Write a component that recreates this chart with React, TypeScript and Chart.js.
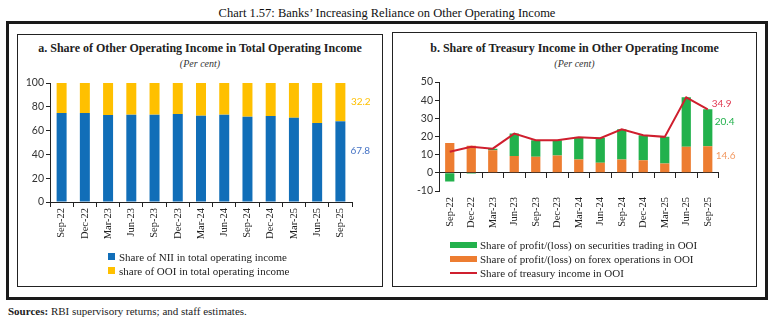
import React, { useEffect, useRef } from "react";
import { Chart, registerables } from "chart.js";
Chart.register(...registerables);

// ---------- data ----------
const categories = ["Sep-22", "Dec-22", "Mar-23", "Jun-23", "Sep-23", "Dec-23", "Mar-24", "Jun-24", "Sep-24", "Dec-24", "Mar-25", "Jun-25", "Sep-25"];
// Panel a
const niiShare = [74.8, 74.8, 73.1, 73.4, 73.4, 73.9, 72.5, 73.4, 71.7, 72.2, 70.8, 66.4, 67.8];
const ooiShare = [25.2, 25.2, 26.9, 26.6, 26.6, 26.1, 27.5, 26.6, 28.3, 27.8, 29.2, 33.6, 32.2];
const leftTicks = [0, 20, 40, 60, 80, 100];
// Panel b
const forexShare = [16.4, 14.9, 12.4, 9.3, 8.9, 9.6, 7.3, 5.5, 7.3, 6.9, 5.1, 14.4, 14.6];
const securitiesShare = [-4.8, -0.5, 0.9, 12.3, 9.1, 8.4, 12.3, 13.8, 16.7, 13.8, 14.7, 27.2, 20.4];
const treasuryShare = [11.6, 14.4, 13.3, 21.6, 18.0, 18.0, 19.6, 19.1, 24.0, 20.7, 19.8, 41.6, 34.9];
const rightTicks = [-10, 0, 10, 20, 30, 40, 50];

// ---------- colours ----------
const BLUE = "#116EB8";
const YELLOW = "#FFC000";
const GREEN = "#22B14C";
const ORANGE = "#ED7D31";
const RED = "#CF1F2E";

const SERIF = "'Liberation Serif', 'Times New Roman', serif";
const SANS = "Lato, 'Liberation Sans', sans-serif";

// plugin: value labels to the right of the last bar
const endLabels = {
  id: "endLabels",
  afterDatasetsDraw(chart: any, _args: any, opts: any) {
    const items = (opts && opts.items) || [];
    const ctx = chart.ctx;
    ctx.save();
    ctx.font = `10px ${SANS}`;
    ctx.textAlign = "left";
    ctx.textBaseline = "middle";
    items.forEach((it: any) => {
      const meta = chart.getDatasetMeta(it.dataset);
      const idx = meta.data.length - 1;
      const el = meta.data[idx];
      const p = el.getProps(["x", "y", "base"], true);
      const y = it.mid ? (p.y + p.base) / 2 : p.y;
      const v = chart.data.datasets[it.dataset].data[idx];
      ctx.fillStyle = it.color;
      ctx.fillText(Number(v).toFixed(1), p.x + it.dx, y + it.dy);
    });
    ctx.restore();
  },
};

const tickFontY = { family: SANS, size: 10.5 };
const tickFontX = { family: SERIF, size: 10.5 };

export default function App() {
  const leftRef = useRef<HTMLCanvasElement>(null);
  const rightRef = useRef<HTMLCanvasElement>(null);

  useEffect(() => {
    document.body.style.margin = "0";
    const c1 = new Chart(leftRef.current as HTMLCanvasElement, {
      type: "bar",
      data: {
        labels: categories,
        datasets: [
          { label: "Share of NII in total operating income", data: niiShare, backgroundColor: BLUE, borderWidth: 0, barPercentage: 0.43, categoryPercentage: 1 },
          { label: "share of OOI in total operating income", data: ooiShare, backgroundColor: YELLOW, borderWidth: 0, barPercentage: 0.43, categoryPercentage: 1 },
        ],
      },
      options: {
        responsive: false,
        animation: false,
        devicePixelRatio: 1,
        layout: { padding: { top: 11, right: 23, left: 0, bottom: 0 } },
        plugins: {
          legend: { display: false },
          tooltip: { enabled: false },
          endLabels: {
            items: [
              { dataset: 1, mid: true, dx: 10.5, dy: 0, color: YELLOW },
              { dataset: 0, mid: true, dx: 10, dy: -11, color: "#4472C4" },
            ],
          },
        } as any,
        scales: {
          x: {
            stacked: true,
            offset: true,
            grid: { display: true, offset: true, drawOnChartArea: false, drawTicks: true, tickLength: 5, color: "#222" },
            border: { display: true, color: "#222" },
            ticks: { autoSkip: false, minRotation: 90, maxRotation: 90, padding: 1, color: "#222", font: tickFontX },
            afterFit: (s: any) => { s.height = 40; },
          },
          y: {
            stacked: true,
            min: leftTicks[0],
            max: leftTicks[leftTicks.length - 1],
            ticks: { stepSize: leftTicks[1] - leftTicks[0], padding: 2, color: "#333", font: tickFontY },
            grid: { drawOnChartArea: false, drawTicks: true, tickLength: 4, color: "#222" },
            border: { display: true, color: "#222" },
            afterFit: (s: any) => { s.width = 30; },
          },
        },
      },
      plugins: [endLabels],
    } as any);

    const c2 = new Chart(rightRef.current as HTMLCanvasElement, {
      type: "bar",
      data: {
        labels: categories,
        datasets: [
          { type: "line", label: "Share of treasury income in OOI", data: treasuryShare, borderColor: RED, backgroundColor: RED, borderWidth: 2, pointRadius: 0, tension: 0, stack: "line", order: 0 },
          { label: "Share of profit/(loss) on forex operations in OOI", data: forexShare, backgroundColor: ORANGE, borderWidth: 0, barPercentage: 0.43, categoryPercentage: 1, stack: "t", order: 1 },
          { label: "Share of profit/(loss) on securities trading in OOI", data: securitiesShare, backgroundColor: GREEN, borderWidth: 0, barPercentage: 0.43, categoryPercentage: 1, stack: "t", order: 1 },
        ],
      },
      options: {
        responsive: false,
        animation: false,
        devicePixelRatio: 1,
        layout: { padding: { top: 10, right: 33.5, left: 0, bottom: 0 } },
        plugins: {
          legend: { display: false },
          tooltip: { enabled: false },
          endLabels: {
            items: [
              { dataset: 0, mid: false, dx: 4, dy: -6, color: "#E03A52" },
              { dataset: 2, mid: true, dx: 7, dy: -5.5, color: GREEN },
              { dataset: 1, mid: true, dx: 8, dy: -4, color: "#F29A63" },
            ],
          },
        } as any,
        scales: {
          x: {
            stacked: true,
            offset: true,
            grid: { display: false, drawTicks: false },
            border: { display: false },
            ticks: { autoSkip: false, minRotation: 90, maxRotation: 90, padding: 6, color: "#222", font: tickFontX },
            afterFit: (s: any) => { s.height = 40; },
          },
          x2: {
            type: "category",
            labels: categories,
            position: { y: 0 },
            offset: true,
            grid: { display: true, offset: true, drawOnChartArea: false, drawTicks: true, tickLength: 5, color: "#222" },
            border: { display: true, color: "#222" },
            ticks: { display: false },
          },
          y: {
            stacked: true,
            min: rightTicks[0],
            max: rightTicks[rightTicks.length - 1],
            ticks: { stepSize: rightTicks[1] - rightTicks[0], padding: 2, color: "#333", font: tickFontY },
            grid: { drawOnChartArea: false, drawTicks: true, tickLength: 4, color: "#222" },
            border: { display: true, color: "#222" },
            afterFit: (s: any) => { s.width = 42; },
          },
        },
      },
      plugins: [endLabels],
    } as any);

    return () => {
      c1.destroy();
      c2.destroy();
    };
  }, []);

  const abs = (s: React.CSSProperties): React.CSSProperties => ({ position: "absolute", ...s });
  const legendText: React.CSSProperties = { fontFamily: SERIF, fontSize: 11, color: "#222", whiteSpace: "nowrap", lineHeight: "14px" };

  return (
    <div style={abs({ left: 0, top: 0, width: 774, height: 321, background: "#fff", fontFamily: SERIF })}>
      {/* main title */}
      <div style={abs({ left: 0, top: 5, width: 774, textAlign: "center", fontSize: 12.5, lineHeight: "16px", color: "#111" })}>
        Chart 1.57: Banks’ Increasing Reliance on Other Operating Income
      </div>
      {/* outer frame */}
      <div style={abs({ left: 6, top: 21, width: 762, height: 279, border: "3px solid #1a1a1a", boxSizing: "border-box" })} />
      {/* panel frames */}
      <div style={abs({ left: 17, top: 34, width: 366, height: 253, border: "1px solid #222", boxSizing: "border-box" })} />
      <div style={abs({ left: 392, top: 32, width: 365, height: 255, border: "1px solid #222", boxSizing: "border-box" })} />

      {/* panel a titles */}
      <div style={abs({ left: 17, top: 40, width: 366, textAlign: "center", fontSize: 12, fontWeight: "bold", lineHeight: "16px", color: "#222" })}>
        a. Share of Other Operating Income in Total Operating Income
      </div>
      <div style={abs({ left: 17, top: 57, width: 366, textAlign: "center", fontSize: 10, fontStyle: "italic", lineHeight: "14px", color: "#333" })}>
        (Per cent)
      </div>
      {/* panel b titles */}
      <div style={abs({ left: 392, top: 40, width: 365, textAlign: "center", fontSize: 12, fontWeight: "bold", lineHeight: "16px", color: "#222" })}>
        b. Share of Treasury Income in Other Operating Income
      </div>
      <div style={abs({ left: 392, top: 57, width: 365, textAlign: "center", fontSize: 10, fontStyle: "italic", lineHeight: "14px", color: "#333" })}>
        (Per cent)
      </div>

      <canvas ref={leftRef} width={355} height={170} style={abs({ left: 20, top: 72, width: 355, height: 170, display: "block" })} />
      <canvas ref={rightRef} width={355} height={159} style={abs({ left: 397, top: 72, width: 355, height: 159, display: "block" })} />

      {/* legend a */}
      <div style={abs({ left: 108, top: 253, width: 7, height: 7, background: BLUE })} />
      <div style={abs({ left: 119, top: 249.5, ...legendText })}>Share of NII in total operating income</div>
      <div style={abs({ left: 108, top: 267, width: 7, height: 7, background: YELLOW })} />
      <div style={abs({ left: 119, top: 263.5, ...legendText })}>share of OOI in total operating income</div>

      {/* legend b */}
      <div style={abs({ left: 450, top: 242, width: 27, height: 6, background: GREEN })} />
      <div style={abs({ left: 480, top: 238, ...legendText })}>Share of profit/(loss) on securities trading in OOI</div>
      <div style={abs({ left: 450, top: 256, width: 27, height: 6, background: ORANGE })} />
      <div style={abs({ left: 480, top: 252, ...legendText })}>Share of profit/(loss) on forex operations in OOI</div>
      <div style={abs({ left: 450, top: 272, width: 27, height: 2, background: RED })} />
      <div style={abs({ left: 480, top: 266, ...legendText })}>Share of treasury income in OOI</div>

      {/* sources */}
      <div style={abs({ left: 8, top: 304, fontSize: 11, lineHeight: "14px", color: "#222", whiteSpace: "nowrap" })}>
        <b>Sources:</b> RBI supervisory returns; and staff estimates.
      </div>
    </div>
  );
}
